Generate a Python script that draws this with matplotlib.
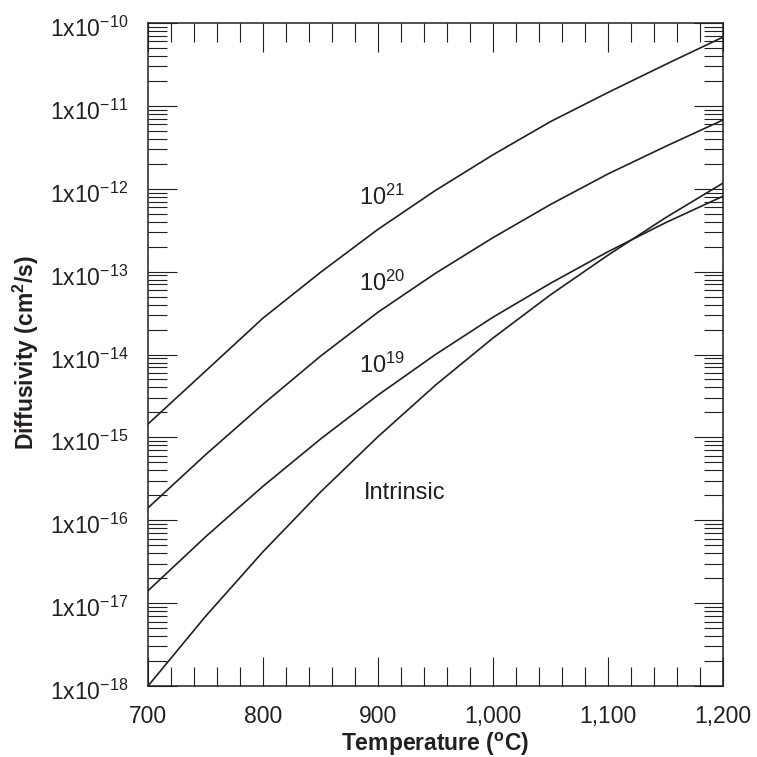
import matplotlib
matplotlib.use("Agg")
import matplotlib.pyplot as plt
from matplotlib.ticker import FixedLocator, LogLocator, NullFormatter, FuncFormatter
from matplotlib.transforms import ScaledTranslation
import numpy as np

plt.rcParams['font.family'] = ['Liberation Sans', 'DejaVu Sans']
plt.rcParams['mathtext.fontset'] = 'custom'
plt.rcParams['mathtext.rm'] = 'Liberation Sans'
plt.rcParams['mathtext.it'] = 'Liberation Sans:italic'
plt.rcParams['mathtext.bf'] = 'Liberation Sans:bold'

# Data
temperature = [700, 750, 800, 850, 900, 950, 1000, 1050, 1100, 1150, 1200]
d_1e21 = [1.45e-15, 6.3e-15, 2.75e-14, 9.8e-14, 3.24e-13, 9.55e-13, 2.57e-12, 6.46e-12, 1.45e-11, 3.16e-11, 6.76e-11]
d_1e20 = [1.41e-16, 6.17e-16, 2.51e-15, 9.55e-15, 3.24e-14, 9.55e-14, 2.57e-13, 6.46e-13, 1.51e-12, 3.24e-12, 6.76e-12]
d_1e19 = [1.41e-17, 6.31e-17, 2.57e-16, 9.55e-16, 3.24e-15, 1.0e-14, 2.82e-14, 7.24e-14, 1.74e-13, 3.89e-13, 8.13e-13]
d_intr = [1.0e-18, 6.92e-18, 4.17e-17, 2.19e-16, 1.02e-15, 4.27e-15, 1.58e-14, 5.25e-14, 1.58e-13, 4.47e-13, 1.17e-12]

series = [d_1e21, d_1e20, d_1e19, d_intr]
labels = [r'10$^{21}$', r'10$^{20}$', r'10$^{19}$', 'Intrinsic']
label_pos = [(883.5, 6.4e-13), (883.5, 5.8e-14), (883.5, 6.0e-15), (887.5, 1.81e-16)]

x_major = [700, 800, 900, 1000, 1100, 1200]
x_ticklabels = ['700', '800', '900', '1,000', '1,100', '1,200']
y_major = [1e-18, 1e-17, 1e-16, 1e-15, 1e-14, 1e-13, 1e-12, 1e-11, 1e-10]

ink = '#231f20'
fig = plt.figure(figsize=(7.57, 7.57), dpi=100)
ax = fig.add_axes([148/757, 1 - 686/757, 575/757, 663/757])

for s in series:
    ax.plot(temperature, s, color=ink, lw=1.2)

ax.set_yscale('log')
ax.set_xlim(700, 1200)
ax.set_ylim(1e-18, 1e-10)

ax.xaxis.set_major_locator(FixedLocator(x_major))
ax.set_xticklabels(x_ticklabels)
ax.xaxis.set_minor_locator(FixedLocator(np.arange(700, 1201, 20)))
ax.yaxis.set_major_locator(FixedLocator(y_major))
ax.yaxis.set_minor_locator(LogLocator(base=10, subs=np.arange(2, 10), numticks=20))
ax.yaxis.set_minor_formatter(NullFormatter())
ax.yaxis.set_major_formatter(FuncFormatter(lambda v, p: r'1x10$^{%d}$' % int(round(np.log10(v)))))

ax.tick_params(which='both', direction='in', top=True, right=True, color=ink, width=0.8,
               labelsize=16.5, labelcolor=ink)
ax.tick_params(which='major', length=21)
ax.tick_params(which='minor', length=13.5)
ax.tick_params(axis='x', which='major', pad=14)
ax.tick_params(axis='y', which='major', pad=14)

fig.canvas.draw()
offset = ScaledTranslation(0, -14/100, fig.dpi_scale_trans)
for lab in ax.get_yticklabels():
    lab.set_va('baseline')
    lab.set_transform(lab.get_transform() + offset)

for sp in ax.spines.values():
    sp.set_linewidth(1.1)
    sp.set_color(ink)

for (tx, ty), lab in zip(label_pos, labels):
    ax.text(tx, ty, lab, fontsize=17, color=ink, ha='left', va='baseline')

fig.text(0.5745, 1 - 751/757, r'Temperature ($^{\mathbf{o}}$C)', fontsize=16.5, fontweight='bold',
         color=ink, ha='center', va='baseline')
fig.text(26/757, 1 - 353/757, r'Diffusivity (cm$^{\mathbf{2}}$/s)', fontsize=16.5, fontweight='bold',
         color=ink, ha='center', va='center', rotation=90)

fig.savefig('out.png', dpi=100)
